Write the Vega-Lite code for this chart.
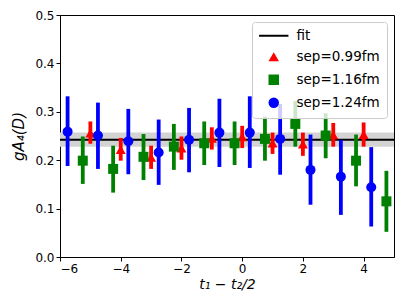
{
  "$schema": "https://vega.github.io/schema/vega-lite/v6.json",
  "width": 334,
  "height": 242,
  "autosize": {"type": "none"},
  "padding": {"left": 60, "top": 15, "right": 13, "bottom": 48},
  "background": "white",
  "config": {
    "view": {"stroke": "black", "strokeWidth": 1},
    "font": "DejaVu Sans",
    "axis": {
      "grid": false,
      "domainColor": "black",
      "tickColor": "black",
      "tickSize": 4,
      "labelColor": "black",
      "labelFontSize": 12,
      "labelFont": "DejaVu Sans",
      "titleFont": "DejaVu Sans",
      "titleFontSize": 14,
      "titleFontWeight": "normal",
      "titleColor": "black",
      "titleFontStyle": "italic"
    },
    "legend": {
      "orient": "top-right",
      "offset": 7,
      "fillColor": "rgba(255,255,255,0.8)",
      "strokeColor": "#cccccc",
      "cornerRadius": 3,
      "padding": 7,
      "rowPadding": 6,
      "symbolSize": 110,
      "symbolOffset": 8,
      "labelOffset": 16,
      "labelFont": "DejaVu Sans",
      "labelFontSize": 13.5,
      "labelColor": "black"
    }
  },
  "datasets": {
    "fit": [{"label": "fit", "fit": 0.242, "lo": 0.228, "hi": 0.257}],
    "pts": [
      {"sep": "sep=0.99fm", "t": -5, "g": 0.256, "lo": 0.234, "hi": 0.280},
      {"sep": "sep=0.99fm", "t": -4, "g": 0.222, "lo": 0.199, "hi": 0.246},
      {"sep": "sep=0.99fm", "t": -3, "g": 0.206, "lo": 0.182, "hi": 0.230},
      {"sep": "sep=0.99fm", "t": -2, "g": 0.225, "lo": 0.201, "hi": 0.249},
      {"sep": "sep=0.99fm", "t": -1, "g": 0.245, "lo": 0.222, "hi": 0.268},
      {"sep": "sep=0.99fm", "t": 0, "g": 0.248, "lo": 0.225, "hi": 0.271},
      {"sep": "sep=0.99fm", "t": 1, "g": 0.235, "lo": 0.213, "hi": 0.257},
      {"sep": "sep=0.99fm", "t": 2, "g": 0.233, "lo": 0.209, "hi": 0.257},
      {"sep": "sep=0.99fm", "t": 3, "g": 0.252, "lo": 0.228, "hi": 0.277},
      {"sep": "sep=0.99fm", "t": 4, "g": 0.253, "lo": 0.228, "hi": 0.278},
      {"sep": "sep=1.16fm", "t": -5.25, "g": 0.199, "lo": 0.151, "hi": 0.249},
      {"sep": "sep=1.16fm", "t": -4.25, "g": 0.182, "lo": 0.133, "hi": 0.230},
      {"sep": "sep=1.16fm", "t": -3.25, "g": 0.207, "lo": 0.159, "hi": 0.254},
      {"sep": "sep=1.16fm", "t": -2.25, "g": 0.228, "lo": 0.180, "hi": 0.275},
      {"sep": "sep=1.16fm", "t": -1.25, "g": 0.235, "lo": 0.190, "hi": 0.280},
      {"sep": "sep=1.16fm", "t": -0.25, "g": 0.235, "lo": 0.190, "hi": 0.280},
      {"sep": "sep=1.16fm", "t": 0.75, "g": 0.244, "lo": 0.199, "hi": 0.290},
      {"sep": "sep=1.16fm", "t": 1.75, "g": 0.275, "lo": 0.228, "hi": 0.322},
      {"sep": "sep=1.16fm", "t": 2.75, "g": 0.251, "lo": 0.204, "hi": 0.297},
      {"sep": "sep=1.16fm", "t": 3.75, "g": 0.199, "lo": 0.146, "hi": 0.253},
      {"sep": "sep=1.16fm", "t": 4.75, "g": 0.115, "lo": 0.052, "hi": 0.178},
      {"sep": "sep=1.24fm", "t": -5.75, "g": 0.259, "lo": 0.188, "hi": 0.332},
      {"sep": "sep=1.24fm", "t": -4.75, "g": 0.251, "lo": 0.182, "hi": 0.319},
      {"sep": "sep=1.24fm", "t": -3.75, "g": 0.239, "lo": 0.171, "hi": 0.306},
      {"sep": "sep=1.24fm", "t": -2.75, "g": 0.216, "lo": 0.149, "hi": 0.284},
      {"sep": "sep=1.24fm", "t": -1.75, "g": 0.242, "lo": 0.175, "hi": 0.308},
      {"sep": "sep=1.24fm", "t": -0.75, "g": 0.257, "lo": 0.186, "hi": 0.327},
      {"sep": "sep=1.24fm", "t": 0.25, "g": 0.257, "lo": 0.184, "hi": 0.332},
      {"sep": "sep=1.24fm", "t": 1.25, "g": 0.244, "lo": 0.170, "hi": 0.316},
      {"sep": "sep=1.24fm", "t": 2.25, "g": 0.180, "lo": 0.108, "hi": 0.253},
      {"sep": "sep=1.24fm", "t": 3.25, "g": 0.166, "lo": 0.087, "hi": 0.242},
      {"sep": "sep=1.24fm", "t": 4.25, "g": 0.144, "lo": 0.063, "hi": 0.227}
    ]
  },
  "layer": [
    {
      "data": {"name": "fit"},
      "mark": {"type": "rect", "color": "#d3d3d3"},
      "encoding": {
        "y": {"field": "lo", "type": "quantitative", "scale": {"domain": [0, 0.5]}},
        "y2": {"field": "hi"}
      }
    },
    {
      "data": {"name": "fit"},
      "mark": {"type": "rule", "color": "black", "strokeWidth": 2},
      "encoding": {
        "y": {"field": "fit", "type": "quantitative"}
      }
    },
    {
      "data": {"name": "pts"},
      "mark": {"type": "rule", "strokeWidth": 3.8},
      "encoding": {
        "x": {"field": "t", "type": "quantitative"},
        "y": {"field": "lo", "type": "quantitative"},
        "y2": {"field": "hi"},
        "color": {
          "field": "sep", "type": "nominal", "legend": null,
          "scale": {"domain": ["sep=0.99fm", "sep=1.16fm", "sep=1.24fm"], "range": ["red", "green", "blue"]}
        }
      }
    },
    {
      "data": {"name": "pts"},
      "mark": {"type": "point", "filled": true, "opacity": 1, "size": 100},
      "encoding": {
        "x": {
          "field": "t", "type": "quantitative",
          "scale": {"domain": [-6, 5], "nice": false, "zero": false},
          "axis": {"values": [-6, -4, -2, 0, 2, 4], "title": "t₁ − t₂/2", "titlePadding": 3, "labelPadding": 2}
        },
        "y": {
          "field": "g", "type": "quantitative",
          "scale": {"domain": [0, 0.5], "nice": false},
          "axis": {"values": [0, 0.1, 0.2, 0.3, 0.4, 0.5], "format": ".1f", "title": "gA₄(D)", "titleFontSize": 15, "titlePadding": 8, "labelPadding": 2}
        },
        "fill": {
          "field": "sep", "type": "nominal", "title": null,
          "scale": {"domain": ["fit", "sep=0.99fm", "sep=1.16fm", "sep=1.24fm"], "range": ["black", "red", "green", "blue"]}
        },
        "shape": {
          "field": "sep", "type": "nominal", "title": null,
          "scale": {"domain": ["fit", "sep=0.99fm", "sep=1.16fm", "sep=1.24fm"], "range": ["M-2.8,-0.19H2.8V0.19H-2.8Z", "triangle-up", "square", "circle"]}
        }
      }
    }
  ]
}
